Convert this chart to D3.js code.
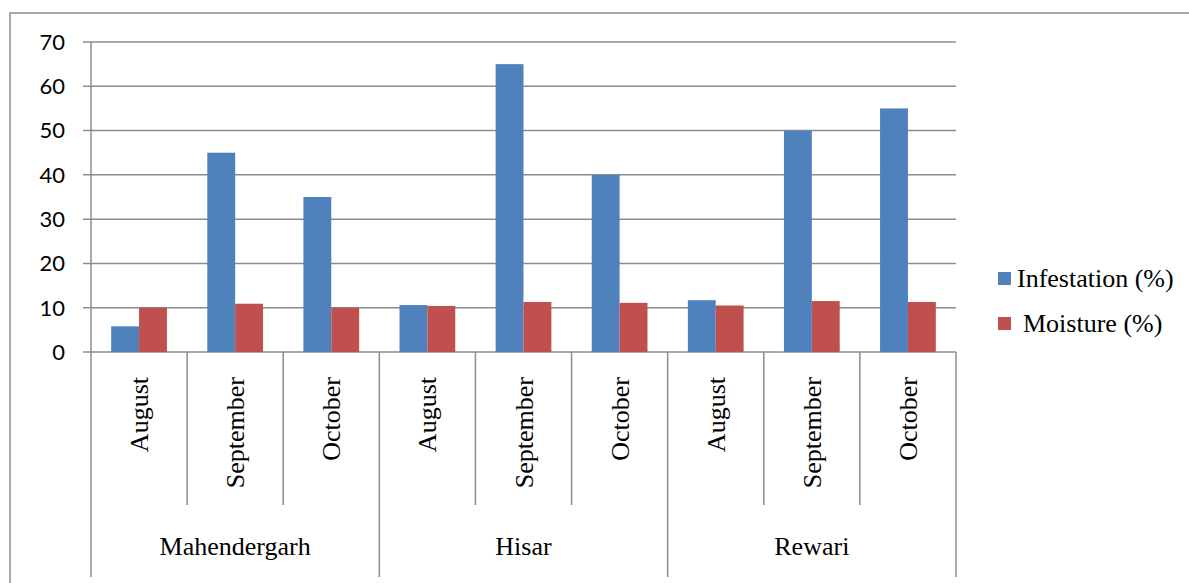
<!DOCTYPE html>
<html>
<head>
<meta charset="utf-8">
<script src="https://cdn.jsdelivr.net/npm/d3@7"></script>
<style>
  body { margin: 0; background: #fff; }
  svg text { fill: #000; }
  .serif { font-family: "Liberation Serif", "Times New Roman", serif; font-size: 26px; }
</style>
</head>
<body>
<div id="chart"></div>
<script>
// data
var districts = ["Mahendergarh", "Hisar", "Rewari"];
var months = ["August", "September", "October"];
var infestation = [5.8, 45, 35, 10.6, 65, 40, 11.7, 50, 55];
var moisture = [10, 10.9, 10, 10.4, 11.3, 11.1, 10.5, 11.5, 11.3];
var yTicks = [0, 10, 20, 30, 40, 50, 60, 70];
var seriesNames = ["Infestation (%)", "Moisture (%)"];
var colors = ["#4f81bd", "#c0504d"];

var svgWidth = 1189;
var svgHeight = 583;
var margin = { top: 42, left: 91, right: 233, bottom: 231 };
var width = svgWidth - margin.left - margin.right;
var height = svgHeight - margin.top - margin.bottom;
var gridColor = "#8c8c8c";

var svg = d3.select("#chart")
    .append("svg")
    .attr("width", svgWidth)
    .attr("height", svgHeight);

// outer frame (runs off the bottom and right of the picture)
svg.append("path")
    .attr("d", "M10,600 L10,13 L1200,13")
    .attr("fill", "none")
    .attr("stroke", gridColor)
    .attr("stroke-width", 1.5);

var chartGroup = svg.append("g")
    .attr("transform", `translate(${margin.left}, ${margin.top})`);

// one slot per district+month
var slots = [];
districts.forEach(d => months.forEach(m => slots.push(d + "|" + m)));

var x0 = d3.scaleBand()
    .domain(slots)
    .range([0, width])
    .paddingInner(0.42)
    .paddingOuter(0.21);
var slotX = d3.scaleBand().domain(slots).range([0, width]);
var x1 = d3.scaleBand()
    .domain([0, 1])
    .range([0, x0.bandwidth()]);
var y = d3.scaleLinear()
    .domain([0, 70])
    .range([height, 0]);

// gridlines
chartGroup.selectAll(".grid")
    .data(yTicks)
    .enter()
    .append("line")
    .attr("x1", -8)
    .attr("x2", width)
    .attr("y1", d => y(d))
    .attr("y2", d => y(d))
    .attr("stroke", gridColor)
    .attr("stroke-width", 1.5);

// y axis line
chartGroup.append("line")
    .attr("x1", 0).attr("x2", 0)
    .attr("y1", 0).attr("y2", height)
    .attr("stroke", gridColor)
    .attr("stroke-width", 1.5);

// y tick labels
chartGroup.selectAll(".ylab")
    .data(yTicks)
    .enter()
    .append("text")
    .attr("x", -26)
    .attr("y", d => y(d))
    .attr("dy", "0.36em")
    .attr("text-anchor", "end")
    .style("font-family", "Lato, 'Liberation Sans', sans-serif")
    .style("font-size", "22px")
    .text(d => d);

// bars
var series = [infestation, moisture];
series.forEach((vals, si) => {
    chartGroup.selectAll(".bar" + si)
        .data(vals)
        .enter()
        .append("rect")
        .attr("x", (d, i) => x0(slots[i]) + x1(si))
        .attr("y", d => y(d))
        .attr("width", x1.bandwidth())
        .attr("height", d => height - y(d))
        .attr("fill", colors[si]);
});

// month separators
var sepMonth = d3.range(slots.length + 1).filter(i => i % 3 !== 0);
chartGroup.selectAll(".msep")
    .data(sepMonth)
    .enter()
    .append("line")
    .attr("x1", i => i * slotX.bandwidth())
    .attr("x2", i => i * slotX.bandwidth())
    .attr("y1", height)
    .attr("y2", height + 153)
    .attr("stroke", gridColor)
    .attr("stroke-width", 1.5);

// district separators
chartGroup.selectAll(".dsep")
    .data([0, 3, 6, 9])
    .enter()
    .append("line")
    .attr("x1", i => i * slotX.bandwidth())
    .attr("x2", i => i * slotX.bandwidth())
    .attr("y1", height)
    .attr("y2", height + 225)
    .attr("stroke", gridColor)
    .attr("stroke-width", 1.5);

// month labels
chartGroup.selectAll(".mlab")
    .data(slots)
    .enter()
    .append("text")
    .attr("class", "serif")
    .attr("transform", d => `translate(${slotX(d) + slotX.bandwidth() / 2 + 9}, ${height + 25}) rotate(-90)`)
    .attr("text-anchor", "end")
    .text(d => d.split("|")[1]);

// district labels
chartGroup.selectAll(".dlab")
    .data(districts)
    .enter()
    .append("text")
    .attr("class", "serif")
    .attr("x", (d, i) => (i * 3 + 1.5) * slotX.bandwidth())
    .attr("y", height + 203)
    .attr("text-anchor", "middle")
    .text(d => d);

// legend
var legend = svg.append("g")
    .attr("transform", "translate(998, 272)");
seriesNames.forEach((name, i) => {
    legend.append("rect")
        .attr("x", 0)
        .attr("y", i * 45)
        .attr("width", 13)
        .attr("height", 13)
        .attr("fill", colors[i]);
    legend.append("text")
        .attr("class", "serif")
        .attr("x", i === 0 ? 19 : 25)
        .attr("y", i * 45 + 15)
        .text(name);
});
</script>
</body>
</html>
